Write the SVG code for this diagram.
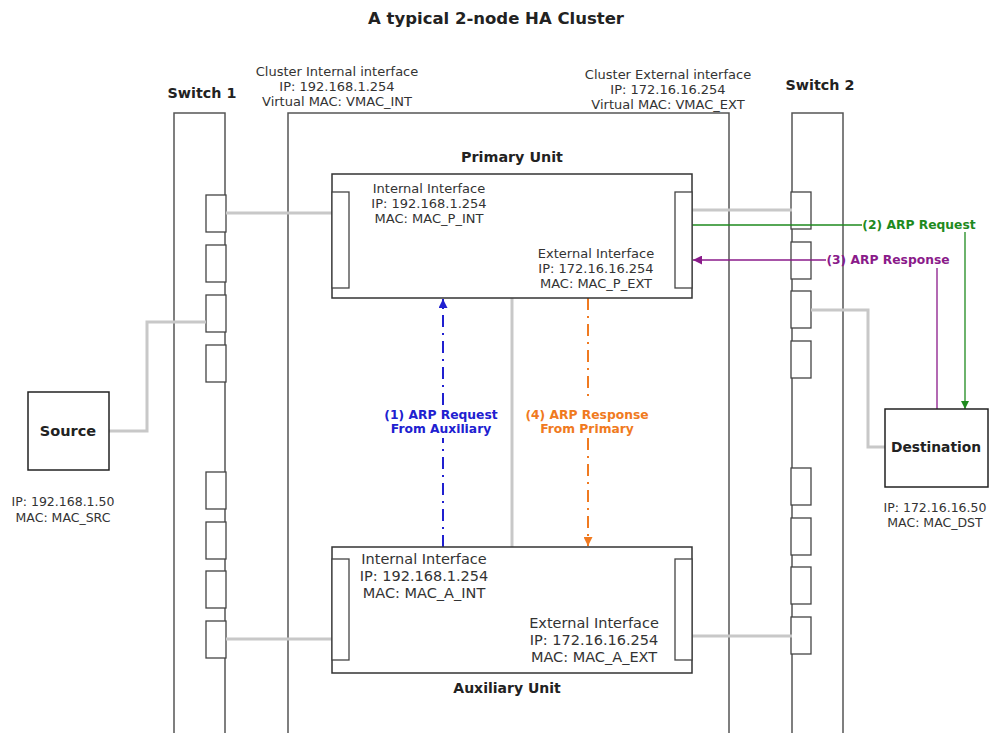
<svg xmlns="http://www.w3.org/2000/svg" width="994" height="733" viewBox="0 0 994 733">
<defs>
<style>
text{font-family:"DejaVu Sans",Verdana,sans-serif;fill:#333}
.t{font-size:13px;text-anchor:middle}
.ts{font-size:12.5px;text-anchor:middle}
.ta{font-size:14.5px;text-anchor:middle}
.b{font-weight:bold;fill:#222;text-anchor:middle}
.box{fill:#fff;stroke:#555;stroke-width:1.5}
.port{fill:#fff;stroke:#444;stroke-width:1.3}
.gray{fill:none;stroke:#c8c8c8;stroke-width:3}
.lbl{font-size:12.3px;font-weight:bold;text-anchor:middle}
</style>
<marker id="ag" viewBox="0 0 10 10" refX="10" refY="5" markerWidth="8" markerHeight="8" orient="auto" markerUnits="userSpaceOnUse"><path d="M0,0 L10,5 L0,10 z" fill="#1e8a1e"/></marker>
<marker id="ap" viewBox="0 0 10 10" refX="10" refY="5" markerWidth="9" markerHeight="9" orient="auto" markerUnits="userSpaceOnUse"><path d="M0,0 L10,5 L0,10 z" fill="#8a1a8a"/></marker>
<marker id="ab" viewBox="0 0 10 10" refX="10" refY="5" markerWidth="9" markerHeight="9" orient="auto" markerUnits="userSpaceOnUse"><path d="M0,0 L10,5 L0,10 z" fill="#2020d0"/></marker>
<marker id="ao" viewBox="0 0 10 10" refX="10" refY="5" markerWidth="9" markerHeight="9" orient="auto" markerUnits="userSpaceOnUse"><path d="M0,0 L10,5 L0,10 z" fill="#f07a20"/></marker>
</defs>
<rect width="994" height="733" fill="#fff"/>
<text x="496" y="24" class="b" font-size="16.5">A typical 2-node HA Cluster</text>

<g id="switch1">
<rect x="174" y="113" width="51" height="640" class="box"/>
<text x="202" y="98" class="b" font-size="14.3">Switch 1</text>
<rect x="206" y="195" width="20" height="37" class="port"/>
<rect x="206" y="245" width="20" height="37" class="port"/>
<rect x="206" y="295" width="20" height="37" class="port"/>
<rect x="206" y="345" width="20" height="37" class="port"/>
<rect x="206" y="472" width="20" height="37" class="port"/>
<rect x="206" y="522" width="20" height="37" class="port"/>
<rect x="206" y="571" width="20" height="37" class="port"/>
<rect x="206" y="621" width="20" height="37" class="port"/>
</g>

<g id="cluster">
<rect x="288" y="113" width="441" height="640" class="box"/>
<text x="337" y="76" class="t">Cluster Internal interface</text>
<text x="337" y="91" class="t">IP: 192.168.1.254</text>
<text x="337" y="106" class="t">Virtual MAC: VMAC_INT</text>
<text x="668" y="79" class="t">Cluster External interface</text>
<text x="668" y="94" class="t">IP: 172.16.16.254</text>
<text x="668" y="109" class="t">Virtual MAC: VMAC_EXT</text>
</g>

<g id="switch2">
<rect x="792" y="113" width="51" height="640" class="box"/>
<text x="820" y="90" class="b" font-size="14.3">Switch 2</text>
<rect x="791" y="192" width="20" height="37" class="port"/>
<rect x="791" y="242" width="20" height="37" class="port"/>
<rect x="791" y="291" width="20" height="37" class="port"/>
<rect x="791" y="341" width="20" height="37" class="port"/>
<rect x="791" y="468" width="20" height="37" class="port"/>
<rect x="791" y="518" width="20" height="37" class="port"/>
<rect x="791" y="567" width="20" height="37" class="port"/>
<rect x="791" y="617" width="20" height="37" class="port"/>
</g>

<g id="connectors">
<path d="M226,213 H332" class="gray"/>
<path d="M109,431 H147 V322 H206" class="gray"/>
<path d="M226,639 H332" class="gray"/>
<path d="M692,210 H792" class="gray"/>
<path d="M811,310 H868 V447 H885" class="gray"/>
<path d="M692,636 H792" class="gray"/>
<path d="M512,298 V547" class="gray"/>
<path d="M692,225 H862" fill="none" stroke="#1e8a1e" stroke-width="1.3"/>
<path d="M965,232 V409" fill="none" stroke="#1e8a1e" stroke-width="1.3" marker-end="url(#ag)"/>
<path d="M937,409 V268" fill="none" stroke="#8a1a8a" stroke-width="1.3"/>
<path d="M826,260 H693" fill="none" stroke="#8a1a8a" stroke-width="1.3" marker-end="url(#ap)"/>
<path d="M443,547 V438" fill="none" stroke="#2020d0" stroke-width="2" stroke-dasharray="12 6 2 6"/>
<path d="M443,405 V299" fill="none" stroke="#2020d0" stroke-width="2" stroke-dasharray="12 6 2 6" marker-end="url(#ab)"/>
<path d="M588,298 V402" fill="none" stroke="#f07a20" stroke-width="2" stroke-dasharray="12 6 2 6"/>
<path d="M588,438 V546" fill="none" stroke="#f07a20" stroke-width="2" stroke-dasharray="12 6 2 6" marker-end="url(#ao)"/>
<text x="919" y="229" class="lbl" style="fill:#1e8a1e">(2) ARP Request</text>
<text x="888" y="264" class="lbl" style="fill:#8a1a8a">(3) ARP Response</text>
<text x="441" y="419" class="lbl" style="fill:#2020d0">(1) ARP Request</text>
<text x="441" y="433" class="lbl" style="fill:#2020d0">From Auxiliary</text>
<text x="587" y="419" class="lbl" style="fill:#f07a20">(4) ARP Response</text>
<text x="587" y="433" class="lbl" style="fill:#f07a20">From Primary</text>
</g>

<g id="primary">
<text x="512" y="162" class="b" font-size="14.3">Primary Unit</text>
<rect x="332" y="174" width="360" height="124" class="box" style="stroke:#333"/>
<rect x="332" y="192" width="17" height="96" class="port"/>
<rect x="675" y="192" width="17" height="96" class="port"/>
<text x="429" y="193" class="t">Internal Interface</text>
<text x="429" y="208" class="t">IP: 192.168.1.254</text>
<text x="429" y="223" class="t">MAC: MAC_P_INT</text>
<text x="596" y="258" class="t">External Interface</text>
<text x="596" y="273" class="t">IP: 172.16.16.254</text>
<text x="596" y="288" class="t">MAC: MAC_P_EXT</text>
</g>

<g id="auxiliary">
<rect x="332" y="547" width="360" height="126" class="box" style="stroke:#333"/>
<rect x="332" y="559" width="17" height="101" class="port"/>
<rect x="675" y="559" width="17" height="101" class="port"/>
<text x="424" y="564" class="ta">Internal Interface</text>
<text x="424" y="581" class="ta">IP: 192.168.1.254</text>
<text x="424" y="598" class="ta">MAC: MAC_A_INT</text>
<text x="594" y="628" class="ta">External Interface</text>
<text x="594" y="645" class="ta">IP: 172.16.16.254</text>
<text x="594" y="662" class="ta">MAC: MAC_A_EXT</text>
<text x="507" y="693" class="b" font-size="14">Auxiliary Unit</text>
</g>

<g id="source">
<rect x="28" y="392" width="81" height="78" class="box" style="stroke:#222"/>
<text x="68" y="436" class="b" font-size="14.5">Source</text>
<text x="63" y="506" class="ts">IP: 192.168.1.50</text>
<text x="63" y="522" class="ts">MAC: MAC_SRC</text>
</g>

<g id="destination">
<rect x="885" y="409" width="103" height="78" class="box" style="stroke:#222"/>
<text x="936" y="452" class="b" font-size="13.8">Destination</text>
<text x="935" y="512" class="ts">IP: 172.16.16.50</text>
<text x="935" y="527" class="ts">MAC: MAC_DST</text>
</g>
</svg>
